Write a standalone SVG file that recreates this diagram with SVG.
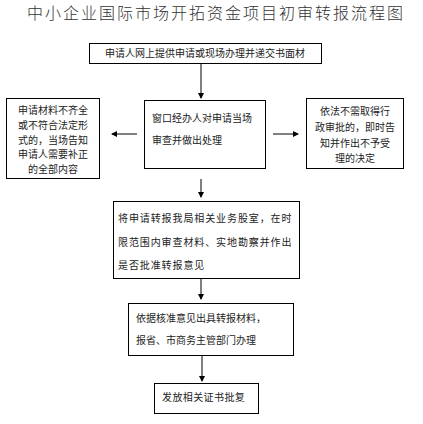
<svg xmlns="http://www.w3.org/2000/svg" width="423" height="424" viewBox="0 0 423 424">
<style>
.box{fill:#fff;stroke:#000;stroke-width:1}
.t{font-family:"Noto Sans CJK SC","Liberation Sans",sans-serif;font-size:10px;fill:#222}
.c{text-anchor:middle}
.title{font-family:"Noto Sans CJK SC",sans-serif;font-size:16px;fill:#333;letter-spacing:2px;font-weight:300}
.ln{stroke:#000;stroke-width:1;fill:none;marker-end:url(#ah)}
</style>
<defs>
<marker id="ah" markerWidth="6" markerHeight="6" refX="5" refY="3" orient="auto" markerUnits="userSpaceOnUse">
<path d="M0,0 L6,3 L0,6 Z" fill="#000"/>
</marker>
</defs>
<rect width="423" height="424" fill="#fff"/>
<text class="title" x="27" y="19">中小企业国际市场开拓资金项目初审转报流程图</text>
<g id="connectors">
<line class="ln" x1="201" y1="64" x2="201" y2="98"/>
<line class="ln" x1="137" y1="134" x2="112" y2="134"/>
<line class="ln" x1="273" y1="134" x2="298" y2="134"/>
<line class="ln" x1="201" y1="179" x2="201" y2="197"/>
<line class="ln" x1="201" y1="278" x2="201" y2="299"/>
<line class="ln" x1="202" y1="355" x2="202" y2="381"/>
</g>
<g id="n1">
<rect class="box" x="89.5" y="43.5" width="232" height="20"/>
<text class="t c" x="205" y="57">申请人网上提供申请或现场办理并递交书面材</text>
</g>
<g id="n2">
<rect class="box" x="144.5" y="100.5" width="121" height="68"/>
<text class="t" x="152" y="121.5">窗口经办人对申请当场</text>
<text class="t" x="152" y="143.5">审查并做出处理</text>
</g>
<g id="n3">
<rect class="box" x="6.5" y="98.5" width="93" height="80"/>
<text class="t c" x="53" y="114">申请材料不齐全</text>
<text class="t c" x="53" y="129">或不符合法定形</text>
<text class="t c" x="53" y="143.5">式的，当场告知</text>
<text class="t c" x="53" y="158">申请人需要补正</text>
<text class="t c" x="53" y="172.5">的全部内容</text>
</g>
<g id="n4">
<rect class="box" x="306.5" y="98.5" width="97" height="70"/>
<text class="t c" x="355" y="114.5">依法不需取得行</text>
<text class="t c" x="355" y="131">政审批的，即时告</text>
<text class="t c" x="355" y="146.5">知并作出不予受</text>
<text class="t c" x="355" y="161.5">理的决定</text>
</g>
<g id="n5">
<rect class="box" x="113.5" y="201.5" width="186" height="77"/>
<text class="t" x="118" y="221.5" letter-spacing="0.9">将申请转报我局相关业务股室，在时</text>
<text class="t" x="118" y="245.5" letter-spacing="0.9">限范围内审查材料、实地勘察并作出</text>
<text class="t" x="118" y="268.5" letter-spacing="0.9">是否批准转报意见</text>
</g>
<g id="n6">
<rect class="box" x="128.5" y="303.5" width="165" height="52"/>
<text class="t" x="136" y="321.5">依据核准意见出具转报材料，</text>
<text class="t" x="136" y="343.5">报省、市商务主管部门办理</text>
</g>
<g id="n7">
<rect class="box" x="154.5" y="383.5" width="104" height="30"/>
<text class="t" x="162" y="400.5" letter-spacing="0.4">发放相关证书批复</text>
</g>
</svg>
